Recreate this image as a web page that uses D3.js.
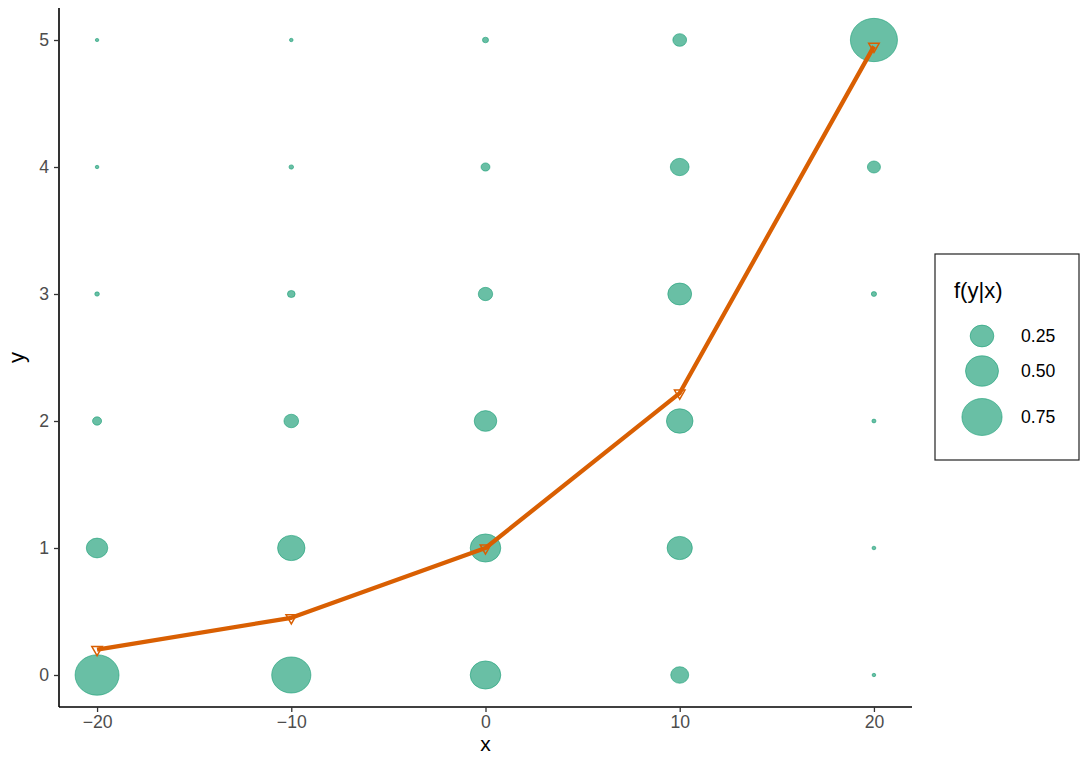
<!DOCTYPE html>
<html>
<head>
<meta charset="utf-8">
<script src="https://cdn.jsdelivr.net/npm/d3@7"></script>
<style>
  body { margin: 0; background: #fff; }
  text { font-family: "Liberation Sans", Arial, sans-serif; }
</style>
</head>
<body>
<div id="viz"></div>
<script>
const xValues = [-20, -10, 0, 10, 20];
const yValues = [0, 1, 2, 3, 4, 5];
const probs = {
  "-20": [0.82, 0.165, 0.017, 0.001, 0.0001, 0.00005],
  "-10": [0.64, 0.29, 0.065, 0.01, 0.001, 0.0001],
  "0":   [0.37, 0.37, 0.185, 0.062, 0.016, 0.004],
  "10":  [0.108, 0.24, 0.27, 0.21, 0.12, 0.055],
  "20":  [0.0001, 0.0002, 0.0004, 0.002, 0.048, 0.95]
};
// mean of y at each x (orange line)
const meanY = [0.2, 0.45, 1.0, 2.22, 4.95];
const xTicks = [-20, -10, 0, 10, 20];
const yTicks = [0, 1, 2, 3, 4, 5];
const legendBreaks = [0.25, 0.50, 0.75];

const width = 1090, height = 763;
const margin = {top: 8, right: 178, bottom: 56, left: 59};
const innerW = width - margin.left - margin.right,
      innerH = height - margin.top - margin.bottom;

const svg = d3.select("#viz").append("svg")
    .attr("width", width)
    .attr("height", height);

const g = svg.append("g")
    .attr("transform", "translate(" + margin.left + "," + margin.top + ")");

const x = d3.scaleLinear().domain([-21.96, 21.96]).range([0, innerW]);
const y = d3.scaleLinear().domain([-0.252, 5.252]).range([innerH, 0]);
// bubble width grows with sqrt of f(y|x)
const size = d3.scaleSqrt().domain([0, 1]).range([3.2, 48.2]);
const aspect = 0.92; // bubbles are a touch flatter than wide

const teal = "#1b9e77", orange = "#d95f02";

// flatten grid into point records
const points = [];
xValues.forEach(xv => {
  probs[String(xv)].forEach((p, i) => points.push({x: xv, y: yValues[i], p: p}));
});

g.selectAll("ellipse.pt")
  .data(points)
  .enter().append("ellipse")
    .attr("class", "pt")
    .attr("cx", d => x(d.x))
    .attr("cy", d => y(d.y))
    .attr("rx", d => size(d.p) / 2)
    .attr("ry", d => size(d.p) / 2 * aspect)
    .attr("fill", teal)
    .attr("fill-opacity", 0.66)
    .attr("stroke", teal)
    .attr("stroke-opacity", 0.6)
    .attr("stroke-width", 1);

const meanData = xValues.map((xv, i) => ({x: xv, y: meanY[i]}));

g.append("path")
  .datum(meanData)
  .attr("fill", "none")
  .attr("stroke", orange)
  .attr("stroke-width", 4.3)
  .attr("stroke-linejoin", "round")
  .attr("d", d3.line().x(d => x(d.x)).y(d => y(d.y)));

const tri = d3.symbol().type(d3.symbolTriangle).size(48);
g.selectAll("path.tri")
  .data(meanData)
  .enter().append("path")
    .attr("class", "tri")
    .attr("d", tri)
    .attr("transform", d => "translate(" + x(d.x) + "," + y(d.y) + ") rotate(180)")
    .attr("fill", "none")
    .attr("stroke", orange)
    .attr("stroke-width", 1.5);

// axes
const xAxis = g.append("g")
  .attr("transform", "translate(0," + innerH + ")")
  .call(d3.axisBottom(x).tickValues(xTicks).tickSize(5).tickPadding(3.5)
        .tickFormat(d => d < 0 ? "\u2212" + Math.abs(d) : d));
const yAxis = g.append("g")
  .call(d3.axisLeft(y).tickValues(yTicks).tickSize(5).tickPadding(5)
        .tickFormat(d3.format("d")));

[xAxis, yAxis].forEach(a => {
  a.select(".domain").attr("stroke", "#000").attr("stroke-width", 1.6);
  a.selectAll(".tick line").attr("stroke", "#333").attr("stroke-width", 1.3);
  a.selectAll(".tick text").attr("fill", "#4d4d4d").style("font-size", "17.6px");
});
// domain lines run full length without end caps
xAxis.select(".domain").attr("d", "M0,0H" + innerW);
yAxis.select(".domain").attr("d", "M0,0V" + innerH);

svg.append("text")
  .attr("x", margin.left + x(0))
  .attr("y", 751)
  .attr("text-anchor", "middle")
  .style("font-size", "21px")
  .text("x");

svg.append("text")
  .attr("transform", "translate(23.5," + (margin.top + innerH / 2) + ") rotate(-90)")
  .attr("text-anchor", "middle")
  .style("font-size", "22px")
  .text("y");

// legend
const lg = svg.append("g").attr("transform", "translate(935,254)");
lg.append("rect")
  .attr("x", 0).attr("y", 0)
  .attr("width", 144).attr("height", 206)
  .attr("fill", "#fff")
  .attr("stroke", "#222")
  .attr("stroke-width", 1.2);
lg.append("text")
  .attr("x", 19).attr("y", 44)
  .style("font-size", "22px")
  .text("f(y|x)");

const keyY = [82, 117, 163];
lg.selectAll("ellipse.key")
  .data(legendBreaks)
  .enter().append("ellipse")
    .attr("class", "key")
    .attr("cx", 47)
    .attr("cy", (d, i) => keyY[i])
    .attr("rx", d => size(d) / 2 - 1)
    .attr("ry", d => (size(d) / 2 - 1) * aspect)
    .attr("fill", teal)
    .attr("fill-opacity", 0.66)
    .attr("stroke", teal)
    .attr("stroke-opacity", 0.6)
    .attr("stroke-width", 1);
lg.selectAll("text.lab")
  .data(legendBreaks)
  .enter().append("text")
    .attr("class", "lab")
    .attr("x", 86)
    .attr("y", (d, i) => keyY[i])
    .attr("dy", "0.36em")
    .style("font-size", "17.6px")
    .text(d => d3.format(".2f")(d));
</script>
</body>
</html>
